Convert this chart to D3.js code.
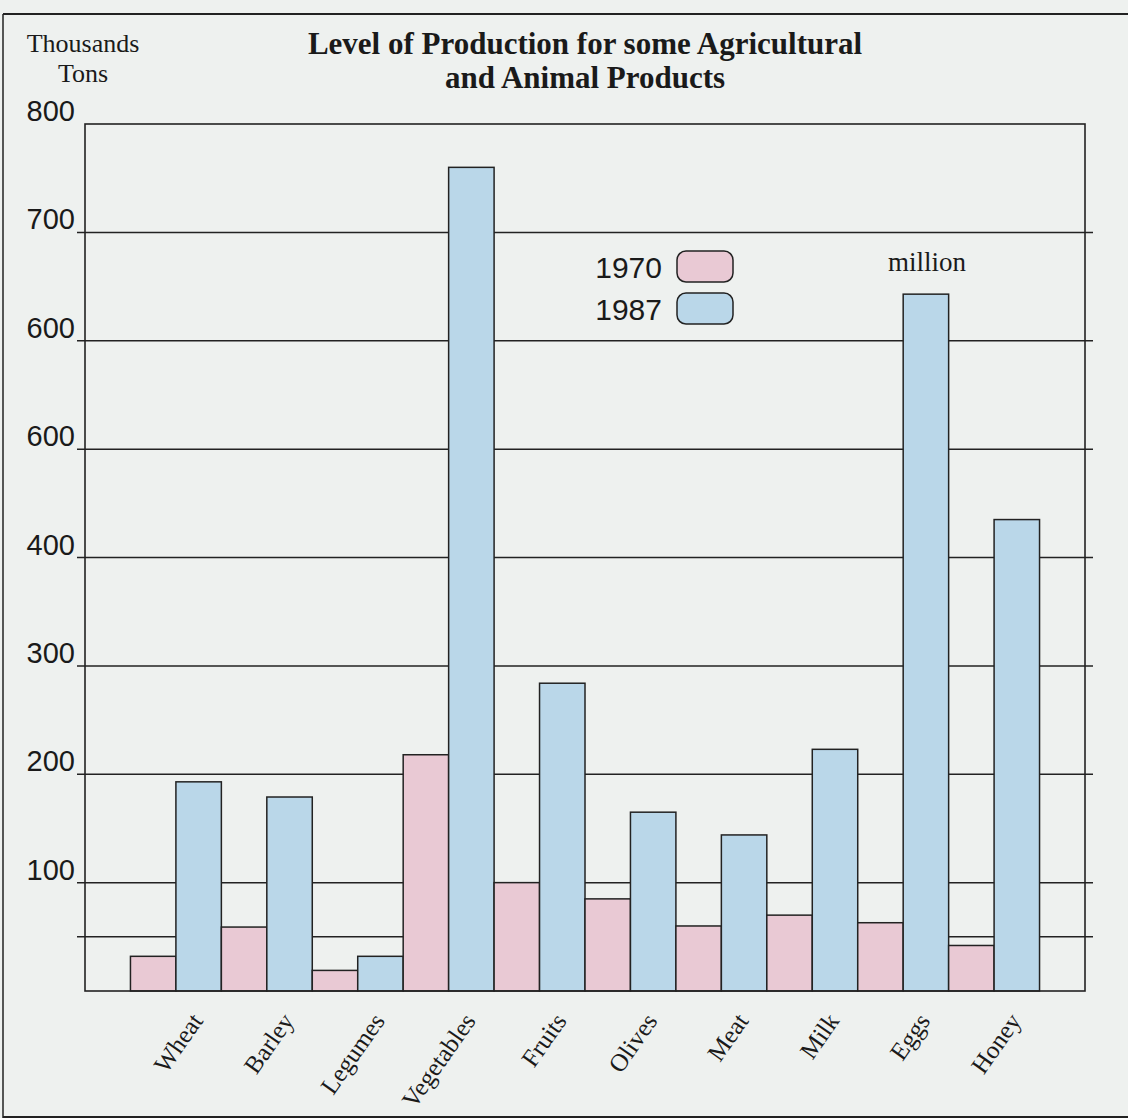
<!DOCTYPE html>
<html>
<head>
<meta charset="utf-8">
<script src="https://cdn.jsdelivr.net/npm/d3@7"></script>
<style>
  html, body { margin: 0; padding: 0; background: #eef1ef; }
  svg { display: block; }
</style>
</head>
<body>
<script>
// Production data (thousand tons; eggs in millions)
const categories = ["Wheat", "Barley", "Legumes", "Vegetables", "Fruits", "Olives", "Meat", "Milk", "Eggs", "Honey"];
const values1970 = [32, 59, 19, 218, 100, 85, 60, 70, 63, 42];
const values1987 = [193, 179, 32, 760, 284, 165, 144, 223, 643, 435];
const seriesNames = ["1970", "1987"];
const tickValues = [100, 200, 300, 400, 500, 600, 700, 800];
const tickLabels = ["100", "200", "300", "400", "600", "600", "700", "800"];
const extraGrid = [50];

const W = 1128, H = 1118;
const plotLeft = 85, plotRight = 1085, plotTop = 124, plotBottom = 991;
const ink = "#222";
const textInk = "#1a1a1a";
const colors = { "1970": "#e9c9d4", "1987": "#bad7e9" };
const serif = "Liberation Serif, Times New Roman, serif";
const sans = "Liberation Sans, Arial, sans-serif";

const svg = d3.select("body").append("svg")
  .attr("width", W).attr("height", H);

svg.append("rect").attr("width", W).attr("height", H).attr("fill", "#eef1ef");

// page rules
svg.append("line").attr("x1", 3).attr("x2", W).attr("y1", 14).attr("y2", 14)
  .attr("stroke", ink).attr("stroke-width", 2);
svg.append("line").attr("x1", 3).attr("x2", 3).attr("y1", 14).attr("y2", H)
  .attr("stroke", ink).attr("stroke-width", 1.5);
svg.append("line").attr("x1", 3).attr("x2", W).attr("y1", 1117).attr("y2", 1117)
  .attr("stroke", ink).attr("stroke-width", 2);

const x = d3.scaleBand().domain(categories).range([plotLeft, plotRight])
  .paddingInner(0).paddingOuter(0.5);
const xs = d3.scaleBand().domain(seriesNames).range([0, x.bandwidth()]);
const y = d3.scaleLinear().domain([0, 800]).range([plotBottom, plotTop]);

// gridlines (behind the bars)
const gridVals = tickValues.filter(v => v < 800).concat(extraGrid);
svg.append("g").selectAll("line").data(gridVals).join("line")
  .attr("x1", plotLeft - 8).attr("x2", plotRight + 8)
  .attr("y1", d => y(d)).attr("y2", d => y(d))
  .attr("stroke", ink).attr("stroke-width", 1.5);

// y tick labels
svg.append("g").selectAll("text").data(tickValues).join("text")
  .attr("x", 75).attr("y", d => y(d) - 3)
  .attr("text-anchor", "end")
  .attr("font-family", sans)
  .attr("font-size", 29)
  .attr("fill", textInk)
  .text((d, i) => tickLabels[i]);

// bars
const rows = categories.map((c, i) => ({ cat: c, vals: [values1970[i], values1987[i]] }));
const groups = svg.append("g").selectAll("g").data(rows).join("g")
  .attr("transform", d => `translate(${x(d.cat)},0)`);
groups.selectAll("rect")
  .data(d => d.vals.map((v, j) => ({ key: seriesNames[j], v })))
  .join("rect")
  .attr("x", d => xs(d.key))
  .attr("width", xs.bandwidth())
  .attr("y", d => y(d.v))
  .attr("height", d => y(0) - y(d.v))
  .attr("fill", d => colors[d.key])
  .attr("stroke", ink).attr("stroke-width", 1.5);

// plot frame
svg.append("rect").attr("x", plotLeft).attr("y", plotTop)
  .attr("width", plotRight - plotLeft).attr("height", plotBottom - plotTop)
  .attr("fill", "none").attr("stroke", ink).attr("stroke-width", 1.6);

// x labels
svg.append("g").selectAll("text").data(categories).join("text")
  .attr("transform", d => `translate(${x(d) + x.bandwidth() / 2 + 28},${1021}) rotate(-55)`)
  .attr("text-anchor", "end")
  .attr("font-family", serif)
  .attr("font-size", 25)
  .attr("fill", textInk)
  .text(d => d);

// titles
svg.append("text").attr("x", 585).attr("y", 54).attr("text-anchor", "middle")
  .attr("font-family", serif).attr("font-weight", "bold").attr("font-size", 31)
  .attr("fill", textInk).text("Level of Production for some Agricultural");
svg.append("text").attr("x", 585).attr("y", 88).attr("text-anchor", "middle")
  .attr("font-family", serif).attr("font-weight", "bold").attr("font-size", 31)
  .attr("fill", textInk).text("and Animal Products");

svg.append("text").attr("x", 83).attr("y", 52).attr("text-anchor", "middle")
  .attr("font-family", serif).attr("font-size", 26).attr("fill", textInk).text("Thousands");
svg.append("text").attr("x", 83).attr("y", 82).attr("text-anchor", "middle")
  .attr("font-family", serif).attr("font-size", 26).attr("fill", textInk).text("Tons");

// legend
const legend = svg.append("g");
seriesNames.forEach((s, i) => {
  const ly = 251 + i * 42;
  legend.append("rect").attr("x", 677).attr("y", ly).attr("width", 56).attr("height", 31)
    .attr("rx", 9).attr("fill", colors[s]).attr("stroke", ink).attr("stroke-width", 1.5);
  legend.append("text").attr("x", 662).attr("y", ly + 27).attr("text-anchor", "end")
    .attr("font-family", sans).attr("font-size", 30)
    .attr("fill", textInk).text(s);
});

// unit note for eggs
svg.append("text").attr("x", 927).attr("y", 271).attr("text-anchor", "middle")
  .attr("font-family", serif).attr("font-size", 27).attr("fill", textInk).text("million");
</script>
</body>
</html>
